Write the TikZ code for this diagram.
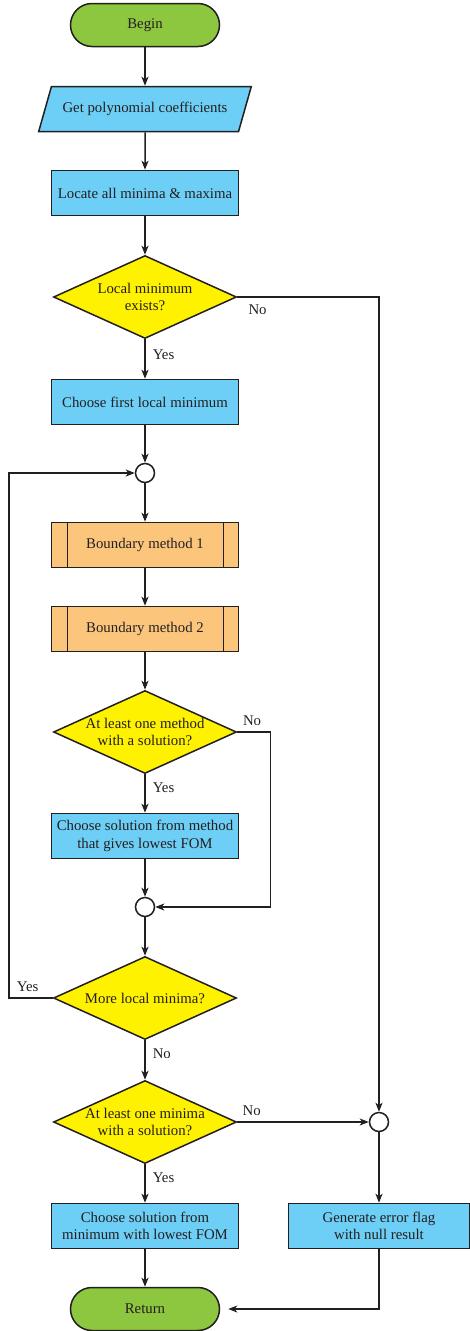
\documentclass[tikz,border=0pt]{standalone}
\usepackage{fontspec}
\setmainfont{Liberation Serif}
\usetikzlibrary{shapes.geometric, arrows.meta, positioning}

\definecolor{ink}{RGB}{35,31,32}
\definecolor{termgreen}{RGB}{141,198,63}
\definecolor{boxblue}{RGB}{109,207,246}
\definecolor{suborange}{RGB}{251,197,124}
\definecolor{decyellow}{RGB}{255,242,0}

\tikzstyle{terminal} = [rectangle, rounded corners = 21.5pt, draw = ink, fill = termgreen, minimum width = 149pt, minimum height = 43pt]
\tikzstyle{io} = [trapezium, trapezium left angle = 61, trapezium right angle = 119, trapezium stretches = true, draw = ink, fill = boxblue, minimum width = 213pt, minimum height = 45pt, inner xsep = 0pt]
\tikzstyle{process} = [rectangle, draw = ink, fill = boxblue, minimum width = 187pt, minimum height = 45pt, align = center, inner xsep = 2pt]
\tikzstyle{subproc} = [process, fill = suborange, path picture = {
	\draw[ink] ([xshift = 16pt]path picture bounding box.north west) -- ([xshift = 16pt]path picture bounding box.south west);
	\draw[ink] ([xshift = -15pt]path picture bounding box.north east) -- ([xshift = -15pt]path picture bounding box.south east);}]
\tikzstyle{decision} = [diamond, draw = ink, fill = decyellow, minimum width = 183pt, minimum height = 83pt, aspect = 2.2, inner sep = -3pt, align = center]
\tikzstyle{junction} = [circle, draw = ink, fill = white, minimum size = 19pt, inner sep = 0pt]
\tikzstyle{lbl} = [inner sep = 2pt]
\tikzstyle{lblright} = [lbl, right, xshift = 5pt]
\tikzstyle{lblabove} = [lbl, above, yshift = 4pt]

\begin{document}
\begin{tikzpicture}[x = 1pt, y = 1pt, line width = 1.5pt, draw = ink, text = ink, font = \fontsize{14.8}{17.5}\selectfont, >={Stealth[length = 9pt, width = 7pt, inset = 2.5pt]}]
			\useasboundingbox (0,0) rectangle (469,-1331);
			\node[terminal] (begin) at (145,-25) {Begin};
			\node[io, below of = begin, node distance = 84pt] (coeffs) {Get polynomial coefficients};
			\node[process, below of = coeffs, node distance = 84pt] (locate) {Locate all minima \& maxima};
			\node[decision, below of = locate, node distance = 104pt] (hasmin) {Local minimum\\exists?};
			\node[process, below of = hasmin, node distance = 105pt] (first) {Choose first local minimum};
			\node[junction, below of = first, node distance = 71pt] (loopjoin) {};
			\node[subproc, below of = loopjoin, node distance = 72pt] (bound1) {Boundary method 1};
			\node[subproc, below of = bound1, node distance = 84pt] (bound2) {Boundary method 2};
			\node[decision, below of = bound2, node distance = 103pt] (methodok) {At least one method\\with a solution?};
			\node[process, below of = methodok, node distance = 104pt] (pickmethod) {Choose solution from method\\that gives lowest FOM};
			\node[junction, below of = pickmethod, node distance = 71pt] (methodjoin) {};
			\node[decision, below of = methodjoin, node distance = 91pt] (moremin) {More local minima?};
			\node[decision, below of = moremin, node distance = 124pt] (minok) {At least one minima\\with a solution?};
			\node[process, below of = minok, node distance = 104pt] (pickmin) {Choose solution from\\minimum with lowest FOM};
			\node[terminal, below of = pickmin, node distance = 83pt] (return) {Return};
			\node[junction, right of = minok, node distance = 234pt] (errjoin) {};
			\node[process, below of = errjoin, node distance = 104pt, minimum width = 181pt] (error) {Generate error flag\\with null result};
			\path[->]
			(begin) edge (coeffs)
			(coeffs) edge (locate)
			(locate) edge (hasmin)
			(hasmin) edge node[lblright, pos = 0.4] {Yes} (first)
			(first) edge (loopjoin)
			(loopjoin) edge (bound1)
			(bound1) edge (bound2)
			(bound2) edge (methodok)
			(methodok) edge node[lblright, pos = 0.35] {Yes} (pickmethod)
			(pickmethod) edge (methodjoin)
			(methodjoin) edge (moremin)
			(moremin) edge node[lblright, pos = 0.35] {No} (minok)
			(minok) edge node[lblright, pos = 0.35] {Yes} (pickmin)
			(pickmin) edge (return)
			(minok) edge node[lblabove, pos = 0.11] {No} (errjoin)
			(errjoin) edge (error);
			\draw[->] (hasmin.east) -| node[lbl, pos = 0.03, below right, yshift = -5pt] {No} (errjoin);
			\draw[->] (methodok.east) -- node[lblabove, pos = 0.45] {No} ++(33,0) |- (methodjoin);
			\draw[->] (moremin.west) -- node[lblabove, pos = 0.57] {Yes} ++(-44,0) |- (loopjoin);
			\draw[->, shorten >= 8pt] (error) |- (return);
		\end{tikzpicture}
\end{document}
